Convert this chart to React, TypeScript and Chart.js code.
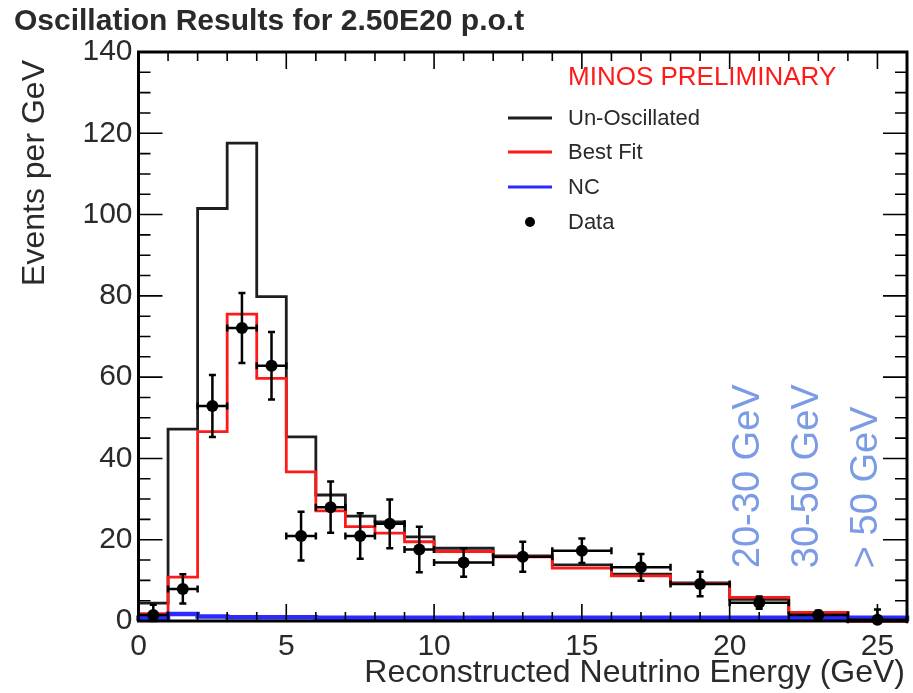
import React, { useEffect, useRef } from "react";
import { Chart, registerables } from "chart.js";

Chart.register(...registerables);

// ---- data ----
const binEdges = [0, 1, 2, 3, 4, 5, 6, 7, 8, 9, 10, 12, 14, 16, 18, 20, 22, 24, 26];
const unOscillated = [4.4, 47.2, 101.5, 117.6, 79.8, 45.3, 31.0, 25.8, 24.4, 20.7, 17.9, 16.0, 13.8, 11.5, 9.4, 5.3, 2.0, 0];
const bestFit = [1.8, 10.8, 46.6, 75.5, 59.7, 36.7, 27.1, 23.2, 21.6, 19.5, 17.1, 15.8, 13.0, 11.1, 9.2, 5.8, 2.1, 0];
const ncBackground = [0.8, 1.7, 1.1, 0.9, 0.9, 0.9, 0.8, 0.8, 0.8, 0.8, 0.8, 0.8, 0.8, 0.8, 0.8, 0.8, 0.8, 0.8];
const dataX = [0.5, 1.5, 2.5, 3.5, 4.5, 5.5, 6.5, 7.5, 8.5, 9.5, 11, 13, 15, 17, 19, 21, 23, 25];
const dataY = [1.5, 7.9, 52.9, 72.1, 62.8, 20.9, 28.0, 20.9, 23.9, 17.6, 14.4, 15.8, 17.3, 13.2, 9.1, 4.5, 1.5, 0.3];
const dataErrY = [2.5, 3.6, 7.6, 8.6, 8.3, 6.0, 6.3, 5.6, 6.0, 5.6, 3.5, 3.7, 3.0, 3.3, 3.0, 1.5, 1.0, 2.5];
const dataErrX = [0.5, 0.5, 0.5, 0.5, 0.5, 0.5, 0.5, 0.5, 0.5, 0.5, 1, 1, 1, 1, 1, 1, 1, 1];
const xRange = [0, 26];
const yRange = [0, 140];
const xTickStep = 5;
const yTickStep = 20;
const legendLabels = ["Un-Oscillated", "Best Fit", "NC", "Data"];
const overflowLabels = ["20-30 GeV", "30-50 GeV", "> 50 GeV"];
const overflowX = [21, 23, 25];
const overflowY = 13;
const titleText = "Oscillation Results for 2.50E20 p.o.t";
const xTitle = "Reconstructed Neutrino Energy (GeV)";
const yTitle = "Events per GeV";
const watermark = "MINOS PRELIMINARY";

const FONT = '"Liberation Sans", Arial, Helvetica, sans-serif';
const C_BLACK = "#1e1e1e";
const C_RED = "#ff1a1a";
const C_BLUE = "#2b2bff";
const C_TEXT = "#2a2a2a";
const C_OVER = "#7b9be6";

function toSteps(vals: number[]) {
  const pts: { x: number; y: number }[] = [{ x: binEdges[0], y: 0 }];
  for (let i = 0; i < vals.length; i++) pts.push({ x: binEdges[i], y: vals[i] });
  const last = binEdges[binEdges.length - 1];
  pts.push({ x: last, y: vals[vals.length - 1] });
  pts.push({ x: last, y: 0 });
  return pts;
}

const errorBarPlugin = {
  id: "errorBars",
  afterDatasetsDraw(chart: any) {
    const { ctx, scales } = chart;
    const xs = scales.x;
    const ys = scales.y;
    ctx.save();
    ctx.strokeStyle = "#000";
    ctx.lineWidth = 2.5;
    const cap = 3.5;
    for (let i = 0; i < dataX.length; i++) {
      const px = xs.getPixelForValue(dataX[i]);
      const py = ys.getPixelForValue(dataY[i]);
      const x0 = xs.getPixelForValue(dataX[i] - dataErrX[i]);
      const x1 = xs.getPixelForValue(dataX[i] + dataErrX[i]);
      const y0 = ys.getPixelForValue(Math.max(0, dataY[i] - dataErrY[i]));
      const y1 = ys.getPixelForValue(dataY[i] + dataErrY[i]);
      ctx.beginPath();
      ctx.moveTo(x0, py);
      ctx.lineTo(x1, py);
      ctx.moveTo(px, y0);
      ctx.lineTo(px, y1);
      ctx.moveTo(px - cap, y1);
      ctx.lineTo(px + cap, y1);
      ctx.moveTo(px - cap, y0);
      ctx.lineTo(px + cap, y0);
      ctx.moveTo(x0, py - cap);
      ctx.lineTo(x0, py + cap);
      ctx.moveTo(x1, py - cap);
      ctx.lineTo(x1, py + cap);
      ctx.stroke();
    }
    ctx.restore();
  },
};

const decorPlugin = {
  id: "decor",
  afterDraw(chart: any) {
    const { ctx, chartArea, scales } = chart;
    const xs = scales.x;
    const ys = scales.y;
    const { left, right, top, bottom } = chartArea;
    ctx.save();

    // frame
    ctx.strokeStyle = "#000";
    ctx.lineWidth = 3;
    ctx.strokeRect(left, top, right - left, bottom - top);

    // ticks (inward, all sides)
    ctx.lineWidth = 1.6;
    ctx.beginPath();
    for (let v = xRange[0]; v <= xRange[1]; v += 1) {
      const px = xs.getPixelForValue(v);
      const major = v % xTickStep === 0;
      const len = major ? 17 : 9;
      ctx.moveTo(px, bottom);
      ctx.lineTo(px, bottom - len);
      ctx.moveTo(px, top);
      ctx.lineTo(px, top + len);
    }
    for (let v = yRange[0]; v <= yRange[1]; v += 5) {
      const py = ys.getPixelForValue(v);
      const major = v % yTickStep === 0;
      const len = major ? 24 : 12;
      ctx.moveTo(left, py);
      ctx.lineTo(left + len, py);
      ctx.moveTo(right, py);
      ctx.lineTo(right - len, py);
    }
    ctx.stroke();

    // main title
    ctx.fillStyle = C_TEXT;
    ctx.font = `bold 30px ${FONT}`;
    ctx.textAlign = "left";
    ctx.textBaseline = "middle";
    ctx.fillText(titleText, 14, 22);

    // x title
    ctx.font = `32px ${FONT}`;
    ctx.textAlign = "right";
    ctx.textBaseline = "alphabetic";
    ctx.fillText(xTitle, right - 2, 682);

    // y title
    ctx.save();
    ctx.translate(44, 60);
    ctx.rotate(-Math.PI / 2);
    ctx.font = `32px ${FONT}`;
    ctx.textAlign = "right";
    ctx.textBaseline = "alphabetic";
    ctx.fillText(yTitle, 0, 0);
    ctx.restore();

    // watermark
    ctx.fillStyle = C_RED;
    ctx.font = `26px ${FONT}`;
    ctx.textAlign = "left";
    ctx.textBaseline = "middle";
    ctx.fillText(watermark, 568, 78);

    // legend
    const rows = [118, 152, 187, 222];
    const colors = [C_BLACK, C_RED, C_BLUE];
    ctx.lineWidth = 3;
    for (let i = 0; i < 3; i++) {
      ctx.strokeStyle = colors[i];
      ctx.beginPath();
      ctx.moveTo(508, rows[i]);
      ctx.lineTo(552, rows[i]);
      ctx.stroke();
    }
    ctx.fillStyle = "#000";
    ctx.beginPath();
    ctx.arc(530, rows[3], 5, 0, Math.PI * 2);
    ctx.fill();
    ctx.fillStyle = C_TEXT;
    ctx.font = `22px ${FONT}`;
    ctx.textBaseline = "middle";
    for (let i = 0; i < legendLabels.length; i++) {
      ctx.fillText(legendLabels[i], 568, rows[i] + 1);
    }

    // overflow labels
    ctx.fillStyle = C_OVER;
    ctx.font = `38px ${FONT}`;
    for (let i = 0; i < overflowLabels.length; i++) {
      const px = xs.getPixelForValue(overflowX[i]);
      const py = ys.getPixelForValue(overflowY);
      ctx.save();
      ctx.translate(px, py);
      ctx.rotate(-Math.PI / 2);
      ctx.textAlign = "left";
      ctx.textBaseline = "alphabetic";
      ctx.fillText(overflowLabels[i], 0, 0);
      ctx.restore();
    }

    ctx.restore();
  },
};

export default function App() {
  const ref = useRef<HTMLCanvasElement | null>(null);

  useEffect(() => {
    document.body.style.margin = "0";
    const canvas = ref.current;
    if (!canvas) return;
    const tickFont = { family: FONT, size: 30 };
    const chart = new Chart(canvas, {
      type: "line",
      data: {
        datasets: [
          {
            label: "Data",
            data: dataX.map((x, i) => ({ x, y: dataY[i] })),
            showLine: false,
            pointRadius: 6,
            pointBackgroundColor: "#000",
            pointBorderWidth: 0,
            order: 0,
            clip: false as any,
          },
          {
            label: "NC",
            data: toSteps(ncBackground),
            stepped: true,
            borderColor: C_BLUE,
            borderWidth: 4.5,
            pointRadius: 0,
            fill: false,
            order: 1,
            clip: false as any,
          },
          {
            label: "Best Fit",
            data: toSteps(bestFit),
            stepped: true,
            borderColor: C_RED,
            borderWidth: 2.8,
            pointRadius: 0,
            fill: false,
            order: 2,
            clip: false as any,
          },
          {
            label: "Un-Oscillated",
            data: toSteps(unOscillated),
            stepped: true,
            borderColor: C_BLACK,
            borderWidth: 2.8,
            pointRadius: 0,
            fill: false,
            order: 3,
            clip: false as any,
          },
        ],
      },
      options: {
        animation: false,
        responsive: false,
        devicePixelRatio: 1,
        events: [],
        layout: { padding: { top: 52, right: 3, left: 0, bottom: 0 } },
        plugins: {
          legend: { display: false },
          tooltip: { enabled: false },
          title: { display: false },
        },
        scales: {
          x: {
            type: "linear",
            min: xRange[0],
            max: xRange[1],
            grid: { display: false, drawTicks: false },
            border: { display: false },
            ticks: {
              stepSize: xTickStep,
              includeBounds: false,
              autoSkip: false,
              maxRotation: 0,
              minRotation: 0,
              font: tickFont,
              color: C_TEXT,
              padding: 8,
            },
            afterFit: (s: any) => {
              s.height = 72;
            },
          },
          y: {
            type: "linear",
            min: yRange[0],
            max: yRange[1],
            grid: { display: false, drawTicks: false },
            border: { display: false },
            ticks: {
              stepSize: yTickStep,
              autoSkip: false,
              font: tickFont,
              color: C_TEXT,
              padding: 6,
            },
            afterFit: (s: any) => {
              s.width = 138.5;
            },
          },
        },
      } as any,
      plugins: [errorBarPlugin, decorPlugin],
    });
    return () => chart.destroy();
  }, []);

  return (
    <canvas
      ref={ref}
      width={913}
      height={693}
      style={{ display: "block", width: 913, height: 693 }}
    />
  );
}
